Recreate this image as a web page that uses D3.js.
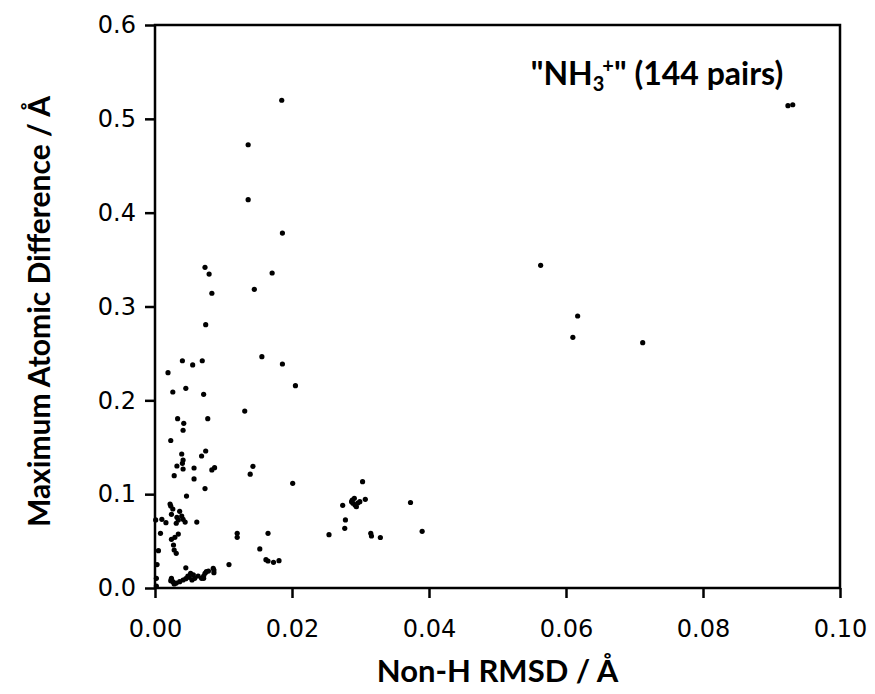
<!DOCTYPE html>
<html>
<head>
<meta charset="utf-8">
<script src="https://cdn.jsdelivr.net/npm/d3@7"></script>
<style>
  body { margin: 0; background: #fff; }
  svg { display: block; }
</style>
</head>
<body>
<div id="chart"></div>
<script>
// Non-H RMSD (x) vs max atomic difference (y)
var rmsd = [
  0.0924, 0.0931, 0.0563, 0.0617, 0.0610, 0.0712,
  0.0185, 0.0136, 0.0136, 0.0186, 0.0073, 0.0079, 0.0171, 0.0145, 0.0083, 0.0074,
  0.0040, 0.0055, 0.0069, 0.0156, 0.0186, 0.0019, 0.0205, 0.0026, 0.0045, 0.0071,
  0.0131, 0.0033, 0.0042, 0.0041, 0.0077, 0.0023, 0.0039, 0.0041, 0.0032, 0.0040,
  0.0041, 0.0057, 0.0068, 0.0074, 0.0083, 0.0087, 0.0028, 0.0057, 0.0073, 0.0046,
  0.0143, 0.0139, 0.0201, 0.0303, 0.0274, 0.0287, 0.0291, 0.0292, 0.0294, 0.0299,
  0.0307, 0.0289, 0.0296, 0.0288, 0.0373, 0.0278, 0.0277, 0.0254, 0.0315, 0.0316,
  0.0329, 0.0390, 0.0120, 0.0120, 0.0165, 0.0153, 0.0162, 0.0165, 0.0173, 0.0181,
  0.0108,
  0.0022, 0.0023, 0.0024, 0.0036, 0.0039, 0.0032, 0.0041, 0.0044, 0.0031, 0.0016,
  0.0010, 0.0001, 0.0061, 0.0008, 0.0034, 0.0029, 0.0024, 0.0027, 0.0028, 0.0031,
  0.0005, 0.0003, 0.0002, 0.0002, 0.0045, 0.0026, 0.0034,
  0.0024, 0.0026, 0.0023, 0.0036, 0.0041, 0.0045, 0.0050, 0.0052, 0.0056, 0.0058,
  0.0068, 0.0071, 0.0073, 0.0078, 0.0085, 0.0086, 0.0075, 0.0071, 0.0086, 0.0031,
  0.0048, 0.0063, 0.0054, 0.0028
];
var maxDiff = [
  0.5140, 0.5150, 0.3439, 0.2899, 0.2672, 0.2614,
  0.5198, 0.4724, 0.4138, 0.3783, 0.3418, 0.3346, 0.3357, 0.3183, 0.3141, 0.2806,
  0.2422, 0.2377, 0.2422, 0.2465, 0.2387, 0.2295, 0.2156, 0.2089, 0.2128, 0.2064,
  0.1886, 0.1804, 0.1755, 0.1681, 0.1804, 0.1572, 0.1428, 0.1364, 0.1300, 0.1329,
  0.1268, 0.1279, 0.1407, 0.1460, 0.1258, 0.1282, 0.1197, 0.1162, 0.1060, 0.0980,
  0.1297, 0.1213, 0.1116, 0.1133, 0.0881, 0.0920, 0.0956, 0.0885, 0.0866, 0.0920,
  0.0945, 0.0903, 0.0906, 0.0938, 0.0911, 0.0725, 0.0636, 0.0568, 0.0583, 0.0554,
  0.0538, 0.0604, 0.0583, 0.0540, 0.0583, 0.0416, 0.0302, 0.0288, 0.0274, 0.0291,
  0.0250,
  0.0895, 0.0874, 0.0785, 0.0817, 0.0767, 0.0753, 0.0732, 0.0703, 0.0690, 0.0696,
  0.0732, 0.0725, 0.0703, 0.0583, 0.0575, 0.0540, 0.0519, 0.0458, 0.0405, 0.0370,
  0.0398, 0.0250, 0.0103, 0.0021, 0.0215, 0.0842, 0.0725,
  0.0103, 0.0067, 0.0078, 0.0067, 0.0085, 0.0099, 0.0114, 0.0157, 0.0139, 0.0103,
  0.0103, 0.0128, 0.0157, 0.0181, 0.0210, 0.0163, 0.0174, 0.0103, 0.0192, 0.0053,
  0.0128, 0.0128, 0.0085, 0.0043
];
var xTicks = [0, 0.02, 0.04, 0.06, 0.08, 0.10];
var yTicks = [0, 0.1, 0.2, 0.3, 0.4, 0.5, 0.6];

var points = rmsd.map(function(d, i) { return {x: d, y: maxDiff[i]}; });

var w = 875, h = 694;
var m = {left: 155, right: 840, top: 25, bottom: 588};

var svg = d3.select("#chart").append("svg")
    .attr("width", w)
    .attr("height", h);

var x = d3.scaleLinear().domain([0, 0.1]).range([m.left, m.right]);
var y = d3.scaleLinear().domain([0, 0.6]).range([m.bottom, m.top]);

var tickFont = "'DejaVu Sans', sans-serif";
var titleFont = "Lato, 'Open Sans', sans-serif";

// frame
svg.append("rect")
   .attr("x", m.left).attr("y", m.top)
   .attr("width", m.right - m.left).attr("height", m.bottom - m.top)
   .attr("fill", "none")
   .attr("stroke", "#000")
   .attr("stroke-width", 2.5);

var xAxis = svg.append("g")
   .attr("transform", "translate(0," + m.bottom + ")")
   .call(d3.axisBottom(x).tickValues(xTicks).tickSize(10).tickPadding(22)
         .tickFormat(d3.format(".2f")));
var yAxis = svg.append("g")
   .attr("transform", "translate(" + m.left + ",0)")
   .call(d3.axisLeft(y).tickValues(yTicks).tickSize(10).tickPadding(9)
         .tickFormat(d3.format(".1f")));

[xAxis, yAxis].forEach(function(a) {
  a.select(".domain").remove();
  a.selectAll("line").attr("stroke", "#000").attr("stroke-width", 2.5);
  a.selectAll("text")
   .attr("fill", "#000")
   .style("font-family", tickFont)
   .style("font-size", "24px");
});

// points
svg.append("g").selectAll("circle")
   .data(points)
   .enter()
   .append("circle")
   .attr("cx", function(d) { return x(d.x); })
   .attr("cy", function(d) { return y(d.y); })
   .attr("r", 2.6)
   .attr("fill", "#000");

// axis titles
svg.append("text")
   .attr("x", (m.left + m.right) / 2)
   .attr("y", 682)
   .attr("text-anchor", "middle")
   .style("font-family", titleFont)
   .style("font-weight", "bold")
   .style("font-size", "31px")
   .text("Non-H RMSD / Å");

svg.append("text")
   .attr("transform", "translate(50," + ((m.top + m.bottom) / 2 + 5) + ") rotate(-90)")
   .attr("text-anchor", "middle")
   .style("font-family", titleFont)
   .style("font-weight", "bold")
   .style("font-size", "30px")
   .text("Maximum Atomic Difference / Å");

// annotation
var note = svg.append("text")
   .attr("x", 657)
   .attr("y", 85)
   .attr("text-anchor", "middle")
   .style("font-family", titleFont)
   .style("font-weight", "bold")
   .style("font-size", "32px");
note.append("tspan").text("\"NH");
note.append("tspan").attr("dy", 6).style("font-size", "20px").text("3");
note.append("tspan").attr("dy", -18).attr("dx", -2).style("font-size", "20px").text("+");
note.append("tspan").attr("dy", 12).text("\" (144 pairs)");
</script>
</body>
</html>
